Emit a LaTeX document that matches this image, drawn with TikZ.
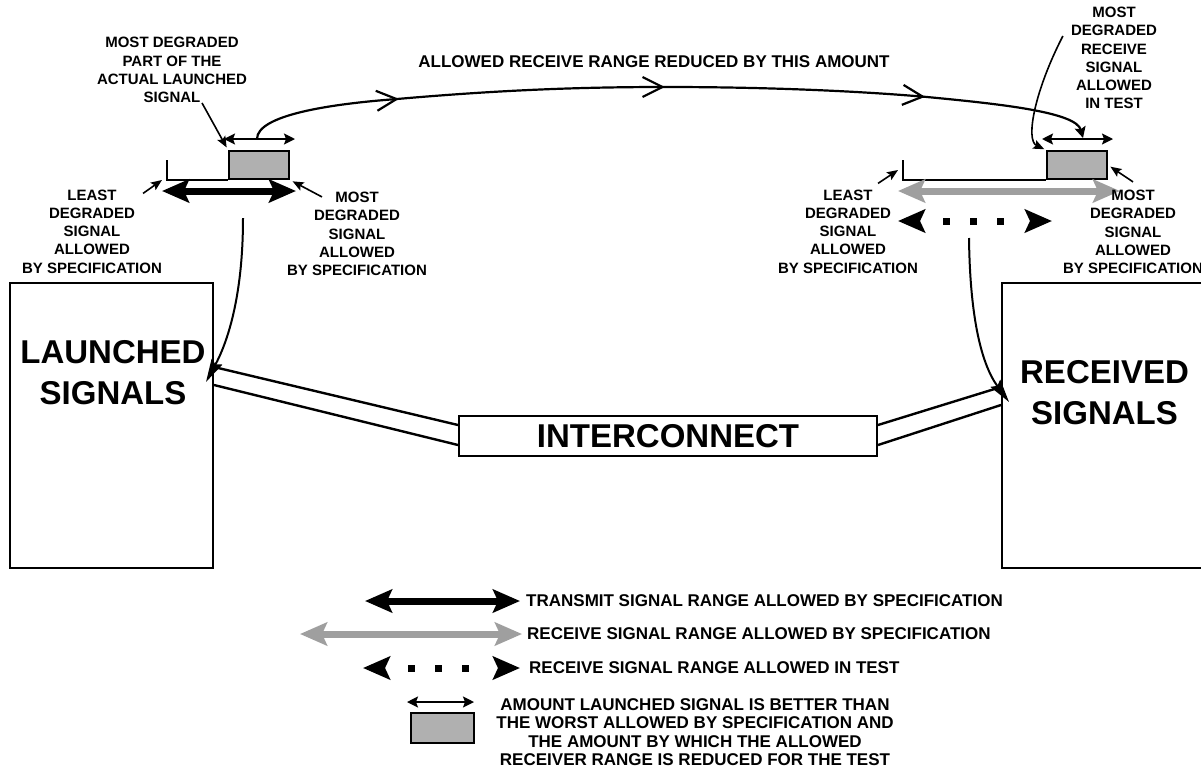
\documentclass[tikz,border=0pt]{standalone}
\usepackage{fontspec}
\setmainfont{Liberation Sans}
\usetikzlibrary{arrows.meta,decorations.markings}

\newcommand\sigsmall{\fontsize{15}{18.3}\selectfont\bfseries}
\newcommand\siglegend{\fontsize{17}{18.3}\selectfont\bfseries}
\newcommand\sigbig{\fontsize{33}{41}\selectfont\bfseries}

\tikzset{
  bighead/.tip={Stealth[length=27pt,width=23pt,inset=5pt]},
  midhead/.tip={Stealth[length=11pt,width=11pt,inset=2pt]},
  smallhead/.tip={Stealth[length=11pt,width=9pt,inset=2pt]},
  flowhead/.tip={Stealth[length=23pt,width=12pt,inset=3pt]},
  barbhead/.tip={Straight Barb[length=20pt,width=20pt]},
}

\begin{document}
\begin{tikzpicture}[x=1pt,y=-1pt,
  sigbox/.style={draw,line width=2pt,inner sep=0pt},
  amtbox/.style={draw,line width=1.8pt,fill=gray!62,inner sep=0pt,minimum width=60pt,minimum height=28pt},
  lbl/.style={font=\sigsmall,align=center,inner sep=0pt},
  leg/.style={font=\siglegend,align=center,inner sep=0pt},
  base/.style={line width=1.6pt},
  wire/.style={line width=2.4pt},
  txrng/.style={line width=7pt,bighead-bighead},
  rxrng/.style={line width=7pt,draw=gray!75,bighead-bighead},
  testrng/.style={line width=7pt,dash pattern=on 0pt off 25pt on 7pt off 20pt on 7pt off 20pt on 7pt off 80pt,bighead-bighead},
  amtrng/.style={line width=1.8pt,midhead-midhead},
  ptr/.style={line width=1.6pt,-smallhead},
  flow/.style={line width=2pt,-flowhead},
  reduce/.style={line width=2.2pt,-midhead,postaction={decorate},
    decoration={markings,
      mark=at position .181 with {\arrow{barbhead}},
      mark=at position .495 with {\arrow{barbhead}},
      mark=at position .802 with {\arrow{barbhead}}}},
]

% Background
\fill[white] (0,0) rectangle (1201,774);
\useasboundingbox (0,0) rectangle (1201,774);

% Launch and receive ends
\node[sigbox,minimum width=203pt,minimum height=285pt] (launch) at (111.5,425.5) {};
\node[font=\sigbig,align=center,inner sep=0pt] (launchtxt) at (113,372.5) {LAUNCHED\\SIGNALS};
\node[sigbox,minimum width=213pt,minimum height=285pt] (rcv) at (1108.5,425.5) {};
\node[font=\sigbig,align=center,inner sep=0pt] (rcvtxt) at (1104.5,392.5) {RECEIVED\\SIGNALS};

% Interconnect
\node[sigbox,font=\sigbig,minimum width=418pt,minimum height=40pt] (ic) at (668,436) {INTERCONNECT};
\draw[wire] ([yshift=58.5pt]launch.east) -- ([yshift=11pt]ic.west);
\draw[wire] ([yshift=40.5pt]launch.east) -- ([yshift=-9pt]ic.west);
\draw[wire] ([yshift=11pt]ic.east) -- ([yshift=38.5pt]rcv.west);
\draw[wire] ([yshift=-9pt]ic.east) -- ([yshift=20.5pt]rcv.west);

% Launched side
\node[amtbox] (lamt) at (259,165) {};
\draw[base] (167,160) |- (lamt.south west);
\draw[txrng] (162,191) -- (296,191);
\draw[amtrng] (224,139) -- (295,139);

\node[lbl] (mdpart) at (172,70) {MOST DEGRADED\\PART OF THE\\ACTUAL LAUNCHED\\SIGNAL};
\node[lbl] (lleast) at (92,231.5) {LEAST\\DEGRADED\\SIGNAL\\ALLOWED\\BY SPECIFICATION};
\node[lbl] (lworst) at (357,234) {MOST\\DEGRADED\\SIGNAL\\ALLOWED\\BY SPECIFICATION};

\draw[ptr,shorten >=3pt] ([xshift=30pt]mdpart.south) -- (lamt.north west);
\draw[ptr] ([shift={(-19,4)}]lleast.north east) -- (162,180);
\draw[ptr,shorten >=3pt] ([shift={(35,5)}]lworst.north west) -- (lamt.south east);

\draw[flow] (243,218) .. controls (243,300) and (226,345) .. ([shift={(-8,-43.5)}]launch.east);

% Received side
\node[amtbox] (ramt) at (1077,165) {};
\draw[base] (903,160) |- (ramt.south west);
\draw[rxrng] (898,191) -- (1120,191);
\draw[testrng] (898,221) -- (1052,221);
\draw[amtrng] (1042,139) -- (1113,139);

\node[lbl] (rtest) at (1114,58) {MOST\\DEGRADED\\RECEIVE\\SIGNAL\\ALLOWED\\IN TEST};
\node[lbl] (rleast) at (848,231.5) {LEAST\\DEGRADED\\SIGNAL\\ALLOWED\\BY SPECIFICATION};
\node[lbl] (rworst) at (1133,232) {MOST\\DEGRADED\\SIGNAL\\ALLOWED\\BY SPECIFICATION};

\draw[ptr,shorten >=2pt] ([shift={(-8,-22)}]rtest.west) .. controls (1035,90) and (1025,140) .. (ramt.north west);
\draw[ptr] ([shift={(-40,-6)}]rleast.north east) -- (898,170);
\draw[ptr,shorten >=3pt] ([yshift=8pt]rworst.north) -- (ramt.east);

\draw[flow] (969,238) .. controls (970,320) and (982,365) .. ([shift={(8,-23.5)}]rcv.west);

% Reduction carried across
\node[font=\siglegend,inner sep=0pt] (redtxt) at (654,62) {ALLOWED RECEIVE RANGE REDUCED BY THIS AMOUNT};
\draw[reduce] (257,139) .. controls (257,115) and (330,104) .. (397,99)
  .. controls (500,90) and (580,87) .. (665,87)
  .. controls (780,87) and (870,92) .. (927,97)
  .. controls (1000,104) and (1076,112) .. (1083,138);

% Legend
\draw[txrng] (365,601) -- (520,601);
\node[leg,anchor=west] (legtx) at (526,601) {TRANSMIT SIGNAL RANGE ALLOWED BY SPECIFICATION};
\draw[rxrng] (300,634) -- (522,634);
\node[leg,anchor=west] (legrx) at (527,634) {RECEIVE SIGNAL RANGE ALLOWED BY SPECIFICATION};
\draw[testrng] (363,668) -- (520,668);
\node[leg,anchor=west] (legtest) at (529,668) {RECEIVE SIGNAL RANGE ALLOWED IN TEST};
\draw[amtrng] (407,702) -- (474,702);
\node[amtbox,minimum width=63pt,minimum height=30pt] (legamt) at (442.5,728) {};
\node[leg] (legamttxt) at (695,732) {AMOUNT LAUNCHED SIGNAL IS BETTER THAN\\THE WORST ALLOWED BY SPECIFICATION AND\\THE AMOUNT BY WHICH THE ALLOWED\\RECEIVER RANGE IS REDUCED FOR THE TEST};

\end{tikzpicture}
\end{document}
